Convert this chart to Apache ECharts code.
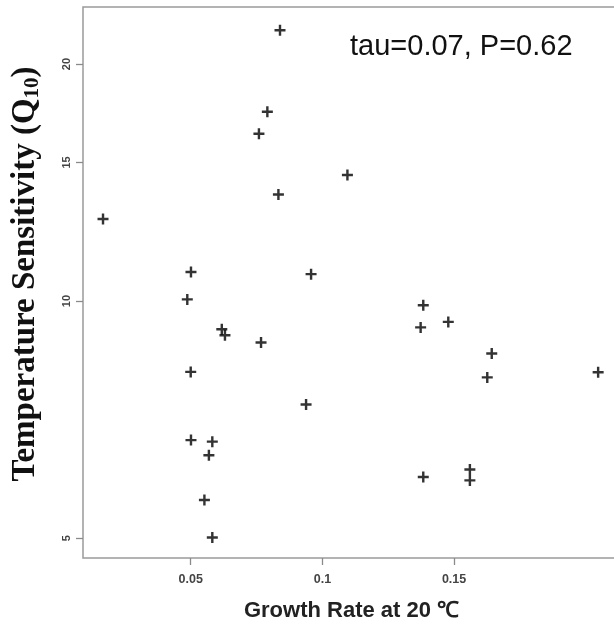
<!DOCTYPE html>
<html>
<head>
<meta charset="utf-8">
<script src="https://cdn.jsdelivr.net/npm/echarts@6/dist/echarts.min.js"></script>
<style>html,body{margin:0;padding:0;background:#fff;}#c{width:614px;height:625px;}</style>
</head>
<body>
<div id="c"></div>
<script>
// Growth rate at 20 °C (x) and Q10 temperature sensitivity (y)
const growthRate = [0.0167, 0.0839, 0.0791, 0.0759, 0.0833, 0.0501, 0.0487, 0.0957, 0.1095, 0.1383,
  0.1373, 0.1478, 0.1643, 0.1626, 0.2047, 0.1383, 0.1560, 0.1560, 0.0938, 0.0618,
  0.0630, 0.0767, 0.0500, 0.0501, 0.0582, 0.0569, 0.0552, 0.0582];
const q10 = [12.71, 22.08, 17.40, 16.31, 13.66, 10.89, 10.05, 10.82, 14.46, 9.88,
  9.26, 9.41, 8.58, 8.00, 8.12, 5.98, 6.11, 5.92, 7.39, 9.21,
  9.05, 8.86, 8.13, 6.66, 6.63, 6.37, 5.59, 5.01];
const xTicks = [0.05, 0.1, 0.15];
const yTicks = [5, 10, 15, 20];
const annotation = 'tau=0.07, P=0.62';

const points = growthRate.map((x, i) => [x, q10[i]]);
const plus = 'path://M3.9,0H6.1V3.9H10V6.1H6.1V10H3.9V6.1H0V3.9H3.9Z';

const chart = echarts.init(document.getElementById('c'), null, {renderer: 'canvas'});
chart.setOption({
  animation: false,
  backgroundColor: '#ffffff',
  grid: {left: 83, top: 7, right: -6, bottom: 67, outerBoundsMode: 'none', containLabel: false,
    show: true, borderColor: '#9a9a9a', borderWidth: 1.5, backgroundColor: 'transparent'},
  xAxis: {
    type: 'value', min: 0.0091, max: 0.213,
    splitLine: {show: false},
    axisLine: {show: false},
    axisTick: {show: true, length: 7, lineStyle: {color: '#8a8a8a', width: 1.3}, customValues: xTicks},
    axisLabel: {customValues: xTicks, margin: 15, fontFamily: 'Liberation Sans, Arial', fontWeight: 'bold', fontSize: 12.5, color: '#444',
      formatter: v => String(v)},
    name: 'Growth Rate at 20 \u2103', nameLocation: 'middle', nameGap: 42,
    nameTextStyle: {fontFamily: 'Liberation Sans, Arial', fontWeight: 'bold', fontSize: 22, color: '#222'}
  },
  yAxis: {
    type: 'log', logBase: 10, min: 4.718, max: 23.63,
    splitLine: {show: false},
    axisLine: {show: false},
    axisTick: {show: true, length: 7, lineStyle: {color: '#8a8a8a', width: 1.3}, customValues: yTicks},
    axisLabel: {customValues: yTicks, rotate: 90, margin: 11, fontFamily: 'Liberation Sans, Arial', fontWeight: 'bold', fontSize: 11, color: '#444',
      formatter: v => String(Math.round(v))},
    name: '{a|Temperature Sensitivity (Q}{s|10}{a|)}', nameLocation: 'middle', nameRotate: 90, nameGap: 40,
    nameTextStyle: {
      padding: [0, 0, 0, 17],
      rich: {
        a: {fontFamily: 'Liberation Serif, Times New Roman', fontWeight: 'bold', fontSize: 33, color: '#111'},
        s: {fontFamily: 'Liberation Serif, Times New Roman', fontWeight: 'bold', fontSize: 21, color: '#111', verticalAlign: 'bottom', padding: [14, 0, 0, 0]}
      }
    }
  },
  series: [{
    type: 'scatter',
    data: points,
    symbol: plus,
    symbolSize: 11,
    itemStyle: {color: '#000'}
  }],
  graphic: [{
    type: 'text', left: 350, top: 32,
    style: {text: annotation, fontFamily: 'Liberation Sans, Arial', fontSize: 29, fill: '#111'}
  }]
});
</script>
</body>
</html>
